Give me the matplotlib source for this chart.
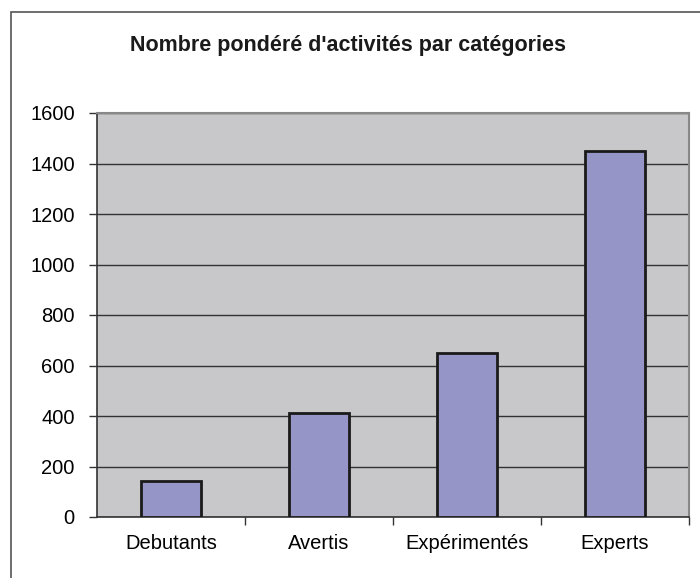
import matplotlib
matplotlib.use("Agg")
import matplotlib.pyplot as plt
from matplotlib.patches import Rectangle
from matplotlib.ticker import FixedLocator, MultipleLocator

plt.rcParams['font.family'] = ['Liberation Sans', 'DejaVu Sans']

categories = ["Debutants", "Avertis", "Expérimentés", "Experts"]
values = [144, 412, 651, 1450]
title = "Nombre pondéré d'activités par catégories"

W, H = 700, 578
fig = plt.figure(figsize=(W / 100, H / 100), dpi=100)
fig.patch.set_facecolor("white")

# outer chart frame, running off the right and bottom edges
fig.patches.append(Rectangle((11 / W, -0.1), 1.2, (H - 12) / H + 0.1,
                             transform=fig.transFigure, fill=False,
                             edgecolor="#555555", linewidth=1.2))

ax = fig.add_axes([97 / W, (H - 517) / H, (689 - 97) / W, (517 - 113) / H])
ax.set_facecolor("#C8C8CA")

x = range(len(categories))
ax.bar(x, values, width=0.4, color="#9595C8", edgecolor="#1a1a1a",
       linewidth=2, zorder=3)

ax.set_xlim(-0.5, len(categories) - 0.5)
ax.set_ylim(0, 1600)
ax.yaxis.set_major_locator(MultipleLocator(200))
ax.grid(axis="y", color="#333333", linewidth=1, zorder=1)
ax.set_axisbelow(True)

ax.set_xticks(list(x))
ax.set_xticklabels(categories, fontsize=14.5)
ax.xaxis.set_minor_locator(FixedLocator([i + 0.5 for i in x]))
ax.tick_params(axis="x", which="major", length=0, pad=12)
ax.tick_params(axis="x", which="minor", length=6, width=1, color="#333333")
ax.tick_params(axis="y", length=6, width=1, color="#333333",
               labelsize=14.5, pad=10)

for side in ("top", "right"):
    ax.spines[side].set_color("#888888")
    ax.spines[side].set_linewidth(1.5)
for side in ("left", "bottom"):
    ax.spines[side].set_color("#333333")
    ax.spines[side].set_linewidth(1.2)

fig.text(348 / W, 1 - 45 / H, title, ha="center", va="center",
         fontsize=15.5, fontweight="bold", color="#1a1a1a")

fig.savefig("out.png", dpi=100)
